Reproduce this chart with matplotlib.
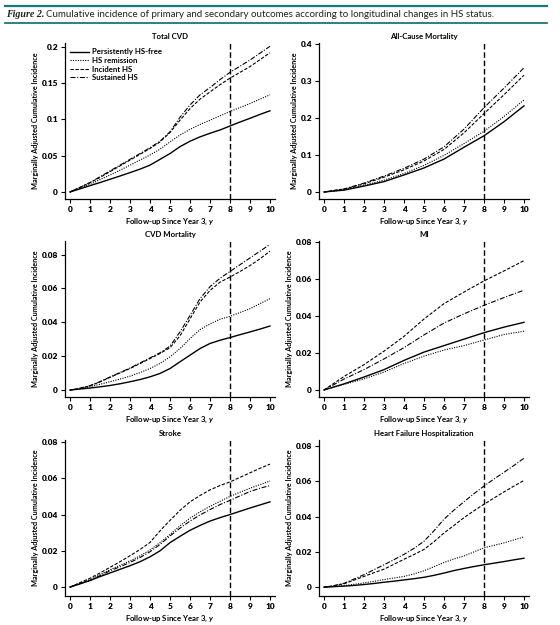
import numpy as np
import matplotlib
matplotlib.use('Agg')
import matplotlib.pyplot as plt

matplotlib.rcParams['font.family'] = ['Lato', 'DejaVu Sans']
matplotlib.rcParams['mathtext.fontset'] = 'custom'
matplotlib.rcParams['mathtext.it'] = 'Lato:italic:bold'

years = [0, 1, 2, 3, 4, 5, 6, 7, 8, 9, 10]
years_half = [0, 0.5, 1, 1.5, 2, 2.5, 3, 3.5, 4, 4.5, 5, 5.5, 6, 6.5, 7, 7.5, 8, 8.5, 9, 9.5, 10]
groups = ['Persistently HS-free', 'HS remission', 'Incident HS', 'Sustained HS']

panel_titles = ['Total CVD', 'All-Cause Mortality', 'CVD Mortality', 'MI',
                'Stroke', 'Heart Failure Hospitalization']

# cumulative incidence, one list per group
total_cvd = [
    [0, 0.0043, 0.0087, 0.013, 0.0175, 0.022, 0.0267, 0.0315, 0.037, 0.045, 0.053,
     0.0625, 0.070, 0.076, 0.081, 0.0855, 0.091, 0.0965, 0.1016, 0.107, 0.112],
    [0, 0.0052, 0.0106, 0.017, 0.0234, 0.030, 0.037, 0.044, 0.051, 0.059, 0.069,
     0.0786, 0.0864, 0.093, 0.099, 0.105, 0.111, 0.1165, 0.122, 0.128, 0.134],
    [0, 0.0063, 0.0129, 0.020, 0.028, 0.036, 0.044, 0.052, 0.060, 0.069, 0.082,
     0.099, 0.115, 0.128, 0.138, 0.148, 0.157, 0.165, 0.173, 0.1825, 0.192],
    [0, 0.0065, 0.013, 0.021, 0.029, 0.037, 0.045, 0.053, 0.061, 0.070, 0.083,
     0.103, 0.120, 0.134, 0.144, 0.155, 0.165, 0.1735, 0.182, 0.1915, 0.201],
]
all_cause = [
    [0, 0.005, 0.016, 0.028, 0.046, 0.065, 0.089, 0.121, 0.152, 0.190, 0.233],
    [0, 0.006, 0.018, 0.032, 0.050, 0.072, 0.099, 0.131, 0.164, 0.204, 0.249],
    [0, 0.008, 0.022, 0.040, 0.060, 0.084, 0.115, 0.160, 0.212, 0.263, 0.316],
    [0, 0.008, 0.024, 0.043, 0.064, 0.089, 0.122, 0.170, 0.228, 0.281, 0.336],
]
cvd_mort = [
    [0, 0.0006, 0.0012, 0.0019, 0.0027, 0.0037, 0.0049, 0.0062, 0.0078, 0.0098, 0.0127,
     0.0167, 0.0206, 0.0245, 0.0275, 0.0294, 0.031, 0.0327, 0.0343, 0.036, 0.0378],
    [0, 0.0009, 0.002, 0.0034, 0.0049, 0.0065, 0.0082, 0.0103, 0.0127, 0.0157, 0.0196,
     0.0245, 0.0304, 0.0357, 0.039, 0.0418, 0.0435, 0.0458, 0.048, 0.051, 0.054],
    [0, 0.001, 0.0025, 0.0048, 0.0075, 0.0101, 0.0127, 0.0156, 0.0186, 0.0216, 0.025,
     0.032, 0.042, 0.052, 0.0588, 0.0637, 0.0667, 0.070, 0.0735, 0.0775, 0.082],
    [0, 0.0011, 0.0026, 0.005, 0.0077, 0.0104, 0.013, 0.016, 0.019, 0.022, 0.0259,
     0.0343, 0.044, 0.054, 0.061, 0.066, 0.070, 0.074, 0.078, 0.082, 0.086],
]
mi = [
    [0, 0.0033, 0.0070, 0.0110, 0.0160, 0.0205, 0.0240, 0.0275, 0.0310, 0.0340, 0.0366],
    [0, 0.0030, 0.0060, 0.0097, 0.0143, 0.0183, 0.0216, 0.0240, 0.0270, 0.0300, 0.0318],
    [0, 0.0073, 0.0137, 0.0210, 0.0290, 0.0384, 0.0467, 0.0530, 0.0590, 0.0644, 0.0700],
    [0, 0.0059, 0.0110, 0.0168, 0.0229, 0.0298, 0.0362, 0.0412, 0.0458, 0.0500, 0.0540],
]
stroke = [
    [0, 0.0018, 0.0036, 0.0058, 0.0078, 0.0098, 0.0118, 0.014, 0.0167, 0.020, 0.0245,
     0.028, 0.0313, 0.034, 0.0364, 0.0383, 0.040, 0.0418, 0.0436, 0.0453, 0.047],
    [0, 0.0021, 0.0042, 0.0068, 0.0096, 0.012, 0.0145, 0.0172, 0.0205, 0.0245, 0.029,
     0.0338, 0.038, 0.0415, 0.0445, 0.0473, 0.050, 0.0523, 0.0545, 0.0565, 0.0585],
    [0, 0.0025, 0.0049, 0.0078, 0.0109, 0.014, 0.0173, 0.0207, 0.0246, 0.031, 0.0368,
     0.0423, 0.047, 0.0505, 0.0536, 0.056, 0.058, 0.0605, 0.063, 0.0655, 0.0678],
    [0, 0.0019, 0.0038, 0.0063, 0.009, 0.0112, 0.0136, 0.0163, 0.0195, 0.0235, 0.0282,
     0.0325, 0.0364, 0.0398, 0.0427, 0.0455, 0.0478, 0.0503, 0.0527, 0.0545, 0.056],
]
hf_hosp = [
    [0, 0.0003, 0.0006, 0.001, 0.0015, 0.0021, 0.0028, 0.0034, 0.0041, 0.0048, 0.0056,
     0.0067, 0.008, 0.0094, 0.0106, 0.0117, 0.0127, 0.0136, 0.0145, 0.0155, 0.0164],
    [0, 0.0004, 0.0009, 0.0016, 0.0024, 0.0033, 0.0043, 0.0052, 0.0061, 0.0075, 0.0093,
     0.0116, 0.014, 0.016, 0.0177, 0.020, 0.0223, 0.0237, 0.0251, 0.0268, 0.0285],
    [0, 0.0008, 0.0019, 0.004, 0.0061, 0.0082, 0.0102, 0.013, 0.0158, 0.0185, 0.0214,
     0.0258, 0.0307, 0.035, 0.0394, 0.0433, 0.047, 0.0505, 0.054, 0.0573, 0.0605],
    [0, 0.0009, 0.0022, 0.0046, 0.0071, 0.0099, 0.0127, 0.0156, 0.0186, 0.022, 0.026,
     0.032, 0.0385, 0.0437, 0.0484, 0.053, 0.0573, 0.0613, 0.0651, 0.069, 0.0731],
]

yticks_total = [0, 0.05, 0.1, 0.15, 0.2]
yticks_allcause = [0, 0.1, 0.2, 0.3, 0.4]
yticks_small = [0, 0.02, 0.04, 0.06, 0.08]
yticklabels_total = ['0', '0.05', '0.1', '0.15', '0.2']
yticklabels_allcause = ['0', '0.1', '0.2', '0.3', '0.4']
yticklabels_small = ['0', '0.02', '0.04', '0.06', '0.08']

panels = [
    (years_half, total_cvd, yticks_total, yticklabels_total, (-0.0097, 0.2055)),
    (years, all_cause, yticks_allcause, yticklabels_allcause, (-0.019, 0.403)),
    (years_half, cvd_mort, yticks_small, yticklabels_small, (-0.0041, 0.088)),
    (years, mi, yticks_small, yticklabels_small, (-0.0038, 0.0806)),
    (years_half, stroke, yticks_small, yticklabels_small, (-0.0049, 0.0811)),
    (years_half, hf_hosp, yticks_small, yticklabels_small, (-0.005, 0.0834)),
]

styles = ['-', (0, (1, 1.2)), (0, (3, 1.5)), (0, (4.5, 1.5, 1, 1.5))]
widths = [1.0, 0.8, 0.8, 0.8]

W, H = 560, 625
fig = plt.figure(figsize=(5.6, 6.25), dpi=100)

# title bar
fig.add_artist(plt.Line2D([5 / W, 547 / W], [1 - 5.5 / H, 1 - 5.5 / H], color='#1b7778', lw=1.6))
fig.add_artist(plt.Line2D([5 / W, 547 / W], [1 - 23 / H, 1 - 23 / H], color='#1b7778', lw=1.3))
t1 = fig.text(6 / W, 1 - 14.5 / H, 'Figure 2.', fontsize=7.2, fontstyle='italic', fontweight='bold',
              family='Liberation Serif', va='center', color='#222222')
bb = t1.get_window_extent(renderer=fig.canvas.get_renderer())
fig.text(bb.x1 / W + 2 / W, 1 - 14.5 / H,
         'Cumulative incidence of primary and secondary outcomes according to longitudinal changes in HS status.',
         fontsize=7.0, va='center', family='Lato', color='#222222')

lefts = [65, 319]
tops = [43, 241, 440]
aw, ah = 210, 156

for k, (xs, data, yt, ytl, ylim) in enumerate(panels):
    r, c = divmod(k, 2)
    ax = fig.add_axes([lefts[c] / W, 1 - (tops[r] + ah) / H, aw / W, ah / H])
    for i in range(4):
        ax.plot(xs, data[i], color='black', linestyle=styles[i], lw=widths[i], label=groups[i])
    ax.axvline(8, color='black', lw=1.0, linestyle=(0, (4, 2)))
    ax.set_xlim(-0.25, 10.25)
    ax.set_ylim(*ylim)
    ax.set_xticks(years)
    ax.set_yticks(yt)
    ax.set_yticklabels(ytl)
    for side in ['top', 'right']:
        ax.spines[side].set_visible(False)
    for side in ['left', 'bottom']:
        ax.spines[side].set_linewidth(0.9)
    ax.tick_params(direction='out', length=3, width=0.8, labelsize=6, pad=2)
    for lab in ax.get_xticklabels() + ax.get_yticklabels():
        lab.set_fontweight('heavy')
    ax.set_title(panel_titles[k], fontsize=5.6, fontweight='bold', pad=3)
    ax.set_xlabel('Follow-up Since Year 3, $y$', fontsize=5.6, fontweight='bold', labelpad=3)
    ax.set_ylabel('Marginally Adjusted Cumulative Incidence', fontsize=5.2, fontweight='bold', labelpad=2)
    if k == 0:
        ax.legend(loc='upper left', frameon=False, handlelength=2.4, handletextpad=0.4,
                  borderaxespad=0.3, labelspacing=0.2, prop={'weight': 'bold', 'size': 5.6})

fig.savefig('out.png', dpi=100)
